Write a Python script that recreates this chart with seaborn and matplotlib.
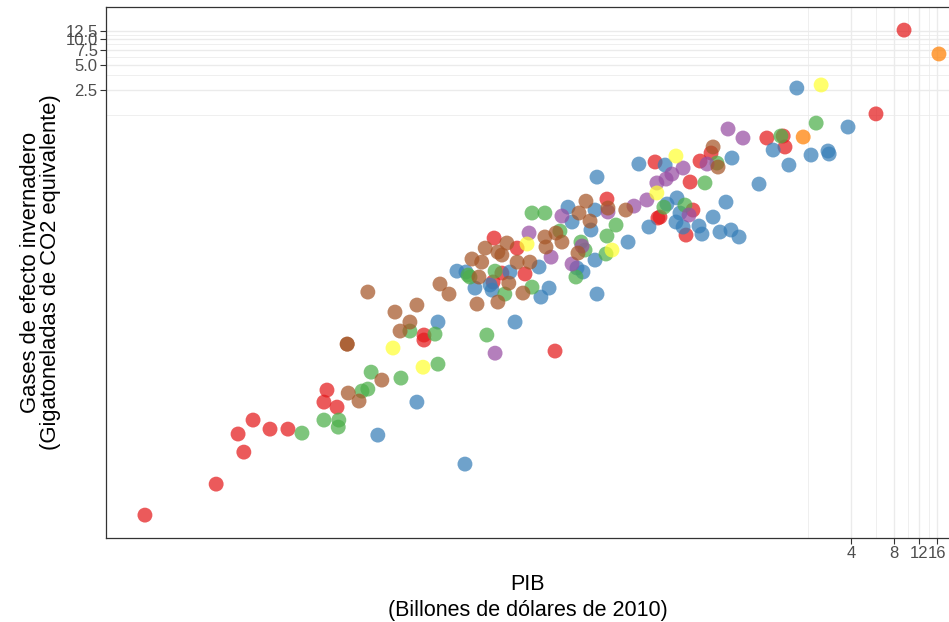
import matplotlib
matplotlib.use("Agg")
import matplotlib.pyplot as plt
from matplotlib.ticker import FixedLocator, FixedFormatter, NullFormatter
import seaborn as sns
import pandas as pd

# ---- data (GDP in "billones" of 2010 USD, GHG in Gt CO2e) ----
regions = ["East Asia & Pacific", "Europe & Central Asia", "Latin America & Caribbean",
           "Middle East & North Africa", "North America", "South Asia", "Sub-Saharan Africa"]

pib_eap = [4.57e-5, 1.44e-4, 2.05e-4, 2.25e-4, 2.61e-4, 3.43e-4, 4.58e-4, 8.18e-4, 8.59e-4, 1.01e-3,
           4.10e-3, 4.10e-3, 1.27e-2, 1.84e-2, 1.44e-2, 2.09e-2, 1.25e-2, 3.39e-2, 7.83e-2, 0.170,
           0.178, 0.351, 0.419, 0.299, 0.313, 0.184, 0.280, 1.03, 1.34, 1.38, 5.98, 9.40]
gei_eap = [2.19e-5, 5.12e-5, 2.02e-4, 1.23e-4, 2.96e-4, 2.31e-4, 2.31e-4, 4.84e-4, 6.73e-4, 4.22e-4,
           3.04e-3, 2.65e-3, 4.33e-2, 3.29e-2, 1.66e-2, 1.62e-2, 1.30e-2, 1.96e-3, 0.126, 0.348,
           7.50e-2, 0.357, 0.445, 0.201, 9.33e-2, 7.70e-2, 4.70e-2, 0.671, 0.709, 0.525, 1.30, 12.9]

pib_eca = [1.95e-3, 3.66e-3, 5.14e-3, 7.94e-3, 6.98e-3, 8.07e-3, 9.33e-3, 1.19e-2, 1.23e-2, 1.64e-2,
           1.78e-2, 2.62e-2, 2.70e-2, 3.08e-2, 4.18e-2, 4.46e-2, 6.05e-2, 6.46e-2, 6.46e-2, 4.83e-2,
           5.32e-2, 6.67e-2, 6.67e-2, 0.131, 0.154, 0.110, 0.200, 0.206, 0.242, 0.254,
           0.238, 0.267, 0.345, 0.362, 0.433, 0.484, 0.578, 0.658, 0.533, 0.587,
           0.908, 1.14, 1.47, 1.67, 2.10, 2.76, 2.81, 3.81]
gei_eca = [1.96e-4, 4.84e-4, 4.34e-3, 8.86e-5, 1.75e-2, 1.71e-2, 1.10e-2, 1.20e-2, 1.04e-2, 1.71e-2,
           4.34e-3, 1.96e-2, 8.60e-3, 1.10e-2, 0.101, 6.72e-2, 5.40e-2, 9.33e-2, 2.37e-2, 1.91e-2,
           1.71e-2, 9.34e-3, 0.230, 0.329, 5.86e-2, 3.88e-2, 0.320, 0.110, 0.130, 8.60e-2,
           6.72e-2, 5.86e-2, 6.02e-2, 4.83e-2, 7.70e-2, 5.11e-2, 5.40e-2, 4.46e-2, 0.116, 0.388,
           0.190, 0.483, 0.320, 2.64, 0.421, 0.470, 0.433, 0.907]

pib_lac = [5.74e-4, 8.18e-4, 1.04e-3, 1.03e-3, 1.51e-3, 1.66e-3, 1.75e-3, 2.83e-3, 3.27e-3, 4.90e-3,
           5.14e-3, 8.34e-3, 8.61e-3, 1.13e-2, 1.29e-2, 1.51e-2, 2.34e-2, 2.34e-2, 2.88e-2, 3.67e-2,
           5.15e-2, 5.50e-2, 4.75e-2, 7.83e-2, 9.06e-2, 7.71e-2, 0.196, 0.275, 0.380, 0.461, 1.29, 2.28]
gei_lac = [2.07e-4, 2.96e-4, 2.96e-4, 2.44e-4, 6.55e-4, 6.92e-4, 1.10e-3, 9.35e-4, 3.39e-3, 3.12e-3,
           1.37e-3, 1.57e-2, 1.49e-2, 3.04e-3, 1.75e-2, 9.34e-3, 1.13e-2, 8.60e-2, 8.60e-2, 5.25e-2,
           3.88e-2, 3.12e-2, 1.49e-2, 4.58e-2, 6.19e-2, 2.80e-2, 0.101, 0.107, 0.196, 0.338, 0.709, 1.01]

pib_mena = [1.29e-2, 2.23e-2, 3.18e-2, 3.79e-2, 5.24e-2, 4.46e-2, 7.96e-2, 0.121, 0.149, 0.175,
            0.203, 0.223, 0.267, 0.393, 0.294, 0.551, 0.701]
gei_mena = [1.85e-3, 4.97e-2, 2.57e-2, 7.92e-2, 3.48e-2, 2.13e-2, 8.84e-2, 0.104, 0.123, 0.196,
            0.218, 0.250, 0.295, 0.329, 8.14e-2, 0.859, 0.671]

pib_na = [1.85, 16.5]
gei_na = [0.690, 6.71]

pib_sa = [2.49e-3, 4.04e-3, 2.16e-2, 8.49e-2, 0.175, 0.238, 2.47]
gei_sa = [2.13e-3, 1.26e-3, 3.68e-2, 3.12e-2, 0.149, 0.410, 2.87]

pib_ssa = [1.19e-3, 1.19e-3, 1.21e-3, 1.44e-3, 1.66e-3, 2.08e-3, 2.57e-3, 2.79e-3, 3.27e-3, 3.66e-3,
           5.31e-3, 6.14e-3, 9.64e-3, 1.10e-2, 1.35e-2, 1.56e-2, 8.89e-3, 1.04e-2, 1.44e-2, 1.84e-2,
           2.26e-2, 9.95e-3, 1.61e-2, 2.02e-2, 1.35e-2, 2.88e-2, 2.93e-2, 3.44e-2, 3.79e-2, 4.91e-2,
           5.58e-2, 4.99e-2, 5.96e-2, 7.96e-2, 0.106, 0.433, 0.469]
gei_ssa = [2.37e-3, 2.37e-3, 6.20e-4, 4.98e-4, 9.87e-3, 8.85e-4, 5.70e-3, 3.39e-3, 4.34e-3, 6.91e-3,
           1.23e-2, 9.34e-3, 7.10e-3, 3.29e-2, 2.95e-2, 3.78e-2, 2.44e-2, 2.24e-2, 2.72e-2, 2.24e-2,
           2.24e-2, 1.49e-2, 1.26e-2, 9.60e-3, 7.50e-3, 4.46e-2, 3.39e-2, 4.97e-2, 3.88e-2, 2.87e-2,
           0.119, 8.60e-2, 6.90e-2, 9.86e-2, 9.33e-2, 0.525, 0.303]

x_ticks = [4, 8, 12, 16]
x_tick_labels = ["4", "8", "12", "16"]
x_minor = [2, 6, 10, 14]
y_ticks = [2.5, 5.0, 7.5, 10.0, 12.5]
y_tick_labels = ["2.5", "5.0", "7.5", "10.0", "12.5"]
y_minor = [1.25, 3.75, 6.25, 8.75, 11.25]

pibs = [pib_eap, pib_eca, pib_lac, pib_mena, pib_na, pib_sa, pib_ssa]
geis = [gei_eap, gei_eca, gei_lac, gei_mena, gei_na, gei_sa, gei_ssa]
rows = []
for reg, p, g in zip(regions, pibs, geis):
    for a, b in zip(p, g):
        rows.append((reg, a, b))
df = pd.DataFrame(rows, columns=["region", "pib", "gei"])

# ---- plot ----
sns.set_theme(style="white")
plt.rcParams["font.family"] = ["Liberation Sans", "DejaVu Sans"]

fig = plt.figure(figsize=(9.49, 6.22), dpi=100)
ax = fig.add_axes([106 / 949, (622 - 538) / 622, (949 - 106) / 949, (538 - 7) / 622])

palette = dict(zip(regions, sns.color_palette("Set1", 7)))
sns.scatterplot(data=df, x="pib", y="gei", hue="region", palette=palette,
                s=115, alpha=0.72, linewidth=0, legend=False, ax=ax, zorder=3)

ax.set_xscale("log")
ax.set_yscale("log")
ax.set_xlim(2.44e-5, 19.4)
ax.set_ylim(1.17e-5, 24.3)

ax.xaxis.set_major_locator(FixedLocator(x_ticks))
ax.xaxis.set_major_formatter(FixedFormatter(x_tick_labels))
ax.xaxis.set_minor_locator(FixedLocator(x_minor))
ax.xaxis.set_minor_formatter(NullFormatter())
ax.yaxis.set_major_locator(FixedLocator(y_ticks))
ax.yaxis.set_major_formatter(FixedFormatter(y_tick_labels))
ax.yaxis.set_minor_locator(FixedLocator(y_minor))
ax.yaxis.set_minor_formatter(NullFormatter())

ax.grid(which="major", color="#EBEBEB", linewidth=1.0, zorder=0)
ax.grid(which="minor", color="#EBEBEB", linewidth=0.55, zorder=0)
ax.set_axisbelow(True)

ax.tick_params(which="major", length=4, width=0.8, color="#333333",
               labelcolor="#4D4D4D", labelsize=12, pad=2,
               bottom=True, left=True)
ax.tick_params(which="minor", length=0)
for name, sp in ax.spines.items():
    sp.set_color("#333333")
    sp.set_linewidth(0.9)
    sp.set_visible(name != "right")

ax.set_xlabel("PIB\n(Billones de dólares de 2010)", fontsize=15.5, color="black",
              linespacing=1.3)
ax.xaxis.set_label_coords(0.5, (538 - 574) / 531)
ax.set_ylabel("Gases de efecto invernadero\n(Gigatoneladas de CO2 equivalente)",
              fontsize=15.8, color="black", linespacing=0.92)
ax.yaxis.set_label_coords((61 - 106) / 843, 0.5)

fig.savefig("out.png", dpi=100)
